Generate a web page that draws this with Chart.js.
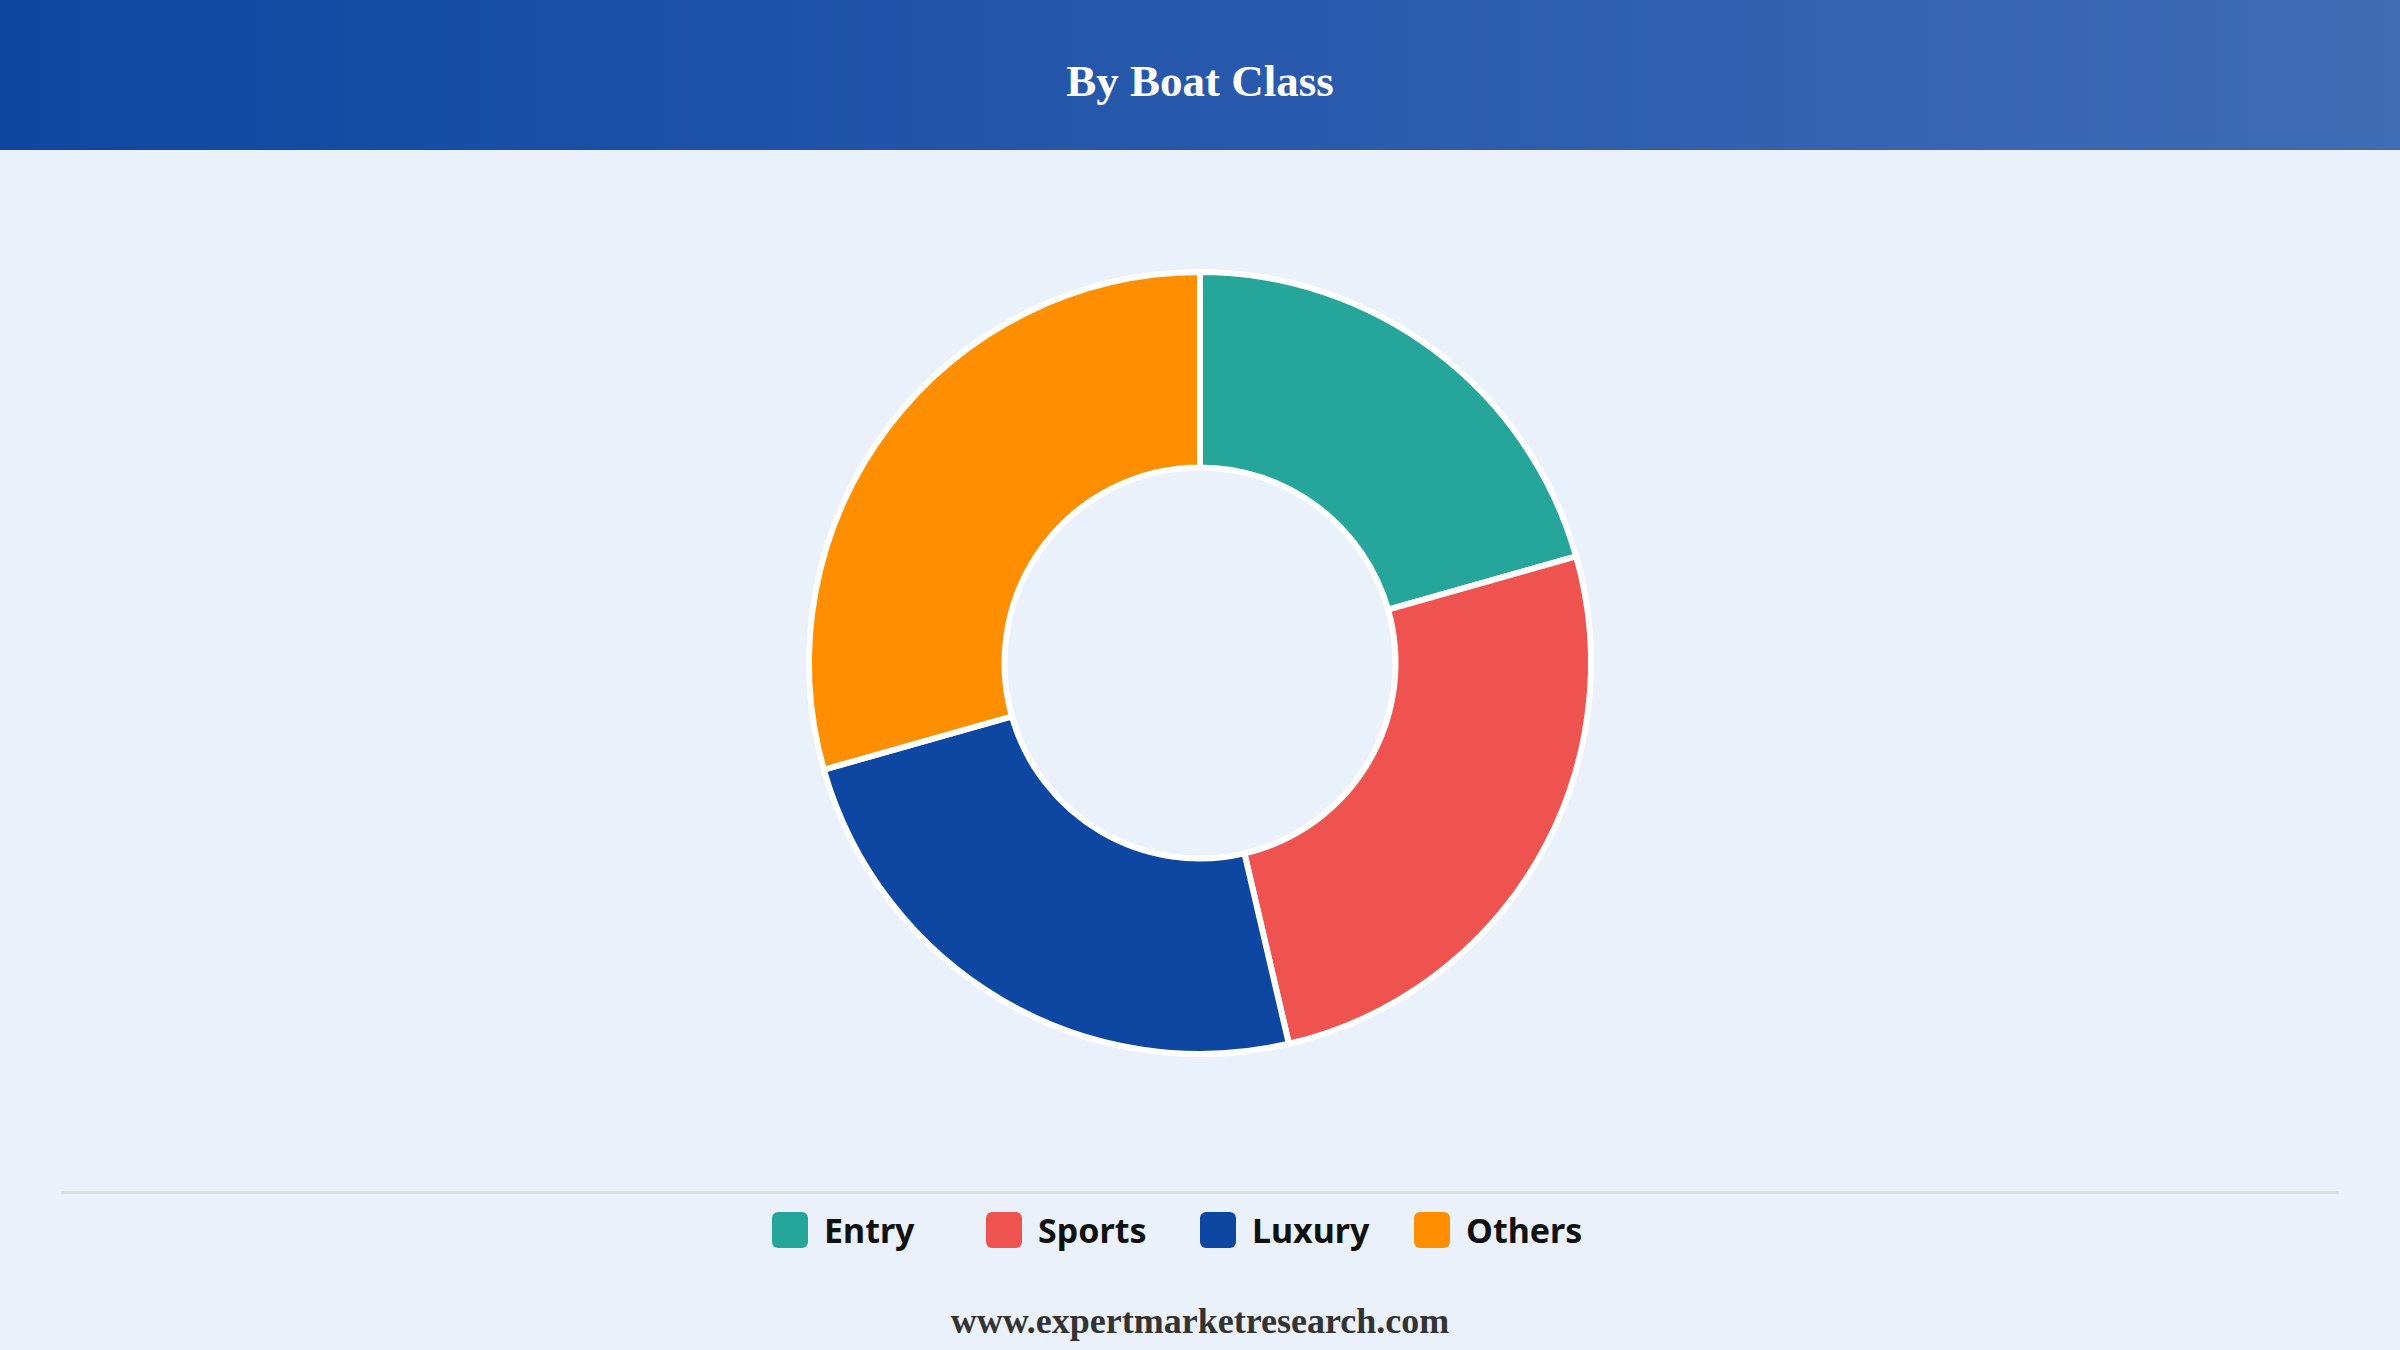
<!DOCTYPE html>
<html>
<head>
<meta charset="utf-8">
<title>By Boat Class</title>
<script src="https://cdn.jsdelivr.net/npm/chart.js@4"></script>
<style>
  html, body {
    margin: 0;
    padding: 0;
    width: 2400px;
    height: 1350px;
    overflow: hidden;
    background: #eaf1fb;
  }
  .header {
    height: 150px;
    background: linear-gradient(90deg, #0d47a1 0%, #2a5aad 55%, #3e6cb5 100%);
    color: #fff;
    font-family: "Liberation Serif", "DejaVu Serif", serif;
    font-weight: bold;
    font-size: 45px;
    text-align: center;
    line-height: 162px;
  }
  .chart-box {
    position: absolute;
    left: 0;
    top: 150px;
    width: 2400px;
    height: 1030px;
  }
  .rule {
    position: absolute;
    left: 61px;
    top: 1191px;
    width: 2278px;
    height: 3px;
    background: #dcdfe4;
  }
  .legend {
    position: absolute;
    left: 772px;
    top: 1210px;
    display: flex;
    font-family: "Noto Sans", "Open Sans", sans-serif;
    font-weight: bold;
    font-size: 34px;
    color: #111;
  }
  .legend .item {
    width: 214px;
    display: flex;
    align-items: center;
    height: 40px;
  }
  .legend .swatch {
    width: 36px;
    height: 36px;
    border-radius: 6px;
    margin-right: 16px;
  }
  .footer {
    position: absolute;
    left: 0;
    width: 2400px;
    top: 1300px;
    text-align: center;
    font-family: "Liberation Serif", "DejaVu Serif", serif;
    font-weight: bold;
    font-size: 36px;
    color: #333;
  }
</style>
</head>
<body>
<div class="header">By Boat Class</div>
<div class="chart-box"><canvas id="boatChart"></canvas></div>
<div class="rule"></div>
<div class="legend" id="legend"></div>
<div class="footer">www.expertmarketresearch.com</div>
<script>
const classLabels = ["Entry", "Sports", "Luxury", "Others"];
const classShares = [20.6, 25.75, 24.25, 29.4];
const classColors = ["#26a69a", "#ef5350", "#0d47a1", "#ff8f00"];

// legend built from the same arrays
const legendEl = document.getElementById("legend");
classLabels.forEach((name, i) => {
  const item = document.createElement("div");
  item.className = "item";
  const sw = document.createElement("span");
  sw.className = "swatch";
  sw.style.background = classColors[i];
  const txt = document.createElement("span");
  txt.textContent = name;
  item.appendChild(sw);
  item.appendChild(txt);
  legendEl.appendChild(item);
});

const ctx = document.getElementById("boatChart").getContext("2d");
new Chart(ctx, {
  type: "doughnut",
  data: {
    labels: classLabels,
    datasets: [{
      data: classShares,
      backgroundColor: classColors,
      borderColor: "#ffffff",
      borderWidth: 6,
      hoverOffset: 0,
    }],
  },
  options: {
    responsive: true,
    maintainAspectRatio: false,
    devicePixelRatio: 1,
    animation: false,
    cutout: "50%",
    layout: {
      padding: { top: 119, bottom: 123 },
    },
    plugins: {
      legend: { display: false },
      tooltip: { enabled: false },
    },
  },
});
</script>
</body>
</html>
